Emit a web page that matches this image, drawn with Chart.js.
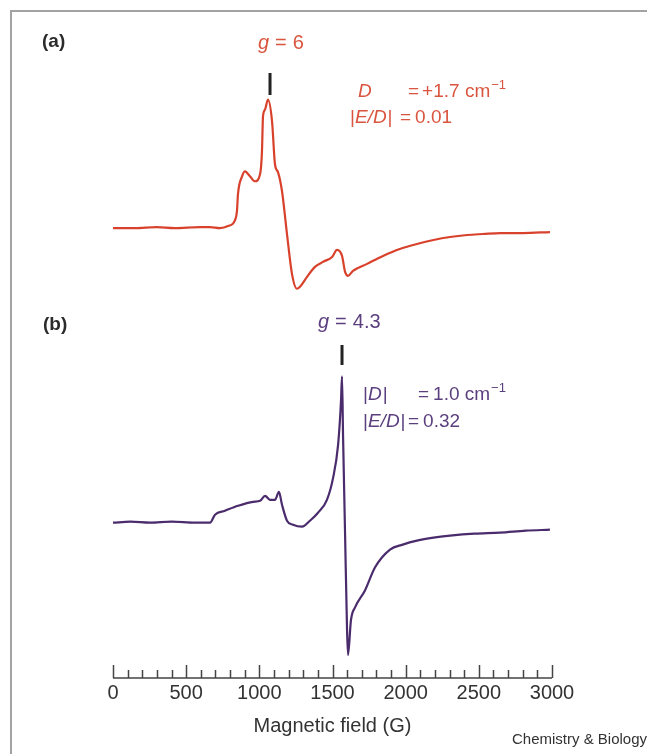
<!DOCTYPE html>
<html>
<head>
<meta charset="utf-8">
<script src="https://cdn.jsdelivr.net/npm/chart.js@4.4.1/dist/chart.umd.min.js"></script>
<style>
  html, body { margin: 0; padding: 0; background: #fff; }
  #epr { display: block; }
</style>
</head>
<body>
<canvas id="epr" width="647" height="754"></canvas>
<script>
// EPR spectra, magnetic field in gauss, signal in arbitrary units (baseline = 0)
const fieldA = [0, 150, 300, 420, 595, 663, 731, 786, 834, 847, 854, 882, 902, 936, 970, 1005, 1018, 1025, 1039, 1059,
  1087, 1107, 1128, 1155, 1189, 1223, 1257, 1278, 1326, 1380, 1435, 1497, 1531, 1565, 1586, 1606, 1640, 1736, 1845, 1960,
  2077, 2190, 2303, 2420, 2528, 2650, 2800, 2986];
const signalA = [0, 0, 1, 0, 1, 1, 0, 2, 8, 17, 34, 52, 57, 52, 47, 54, 77, 112, 119, 129,
  107, 64, 56, 37, -6, -46, -61, -59, -49, -39, -34, -29, -22, -28, -44, -48, -43, -36, -28, -21,
  -16, -12, -9, -7, -6, -5, -5, -4];

const fieldB = [0, 120, 253, 400, 560, 663, 697, 765, 854, 957, 1005, 1039, 1073, 1107, 1134, 1155, 1189, 1230, 1292, 1346,
  1401, 1462, 1504, 1538, 1558, 1565, 1572, 1586, 1599, 1606, 1626, 1654, 1722, 1790, 1893, 1980, 2077, 2190, 2303, 2470,
  2645, 2820, 2986];
const signalB = [0, 1, 0, 1, 0, 0, 8, 12, 17, 21, 22, 27, 23, 23, 31, 18, 2, -2, -4, 2,
  10, 23, 45, 78, 122, 147, 88, -12, -105, -133, -98, -85, -68, -45, -27, -22, -18, -15, -13, -11,
  -10, -8, -7];

const fieldMin = 0;
const fieldMax = 3000;
const minorStep = 100;
const majorStep = 500;

// g-value markers (field position of the little black bars)
const markerFields = [1073, 1565];

const RED = '#d8412b';
const RED_TEXT = '#d9553f';
const PURPLE = '#4a2b6c';
const PURPLE_TEXT = '#5b3f7e';
const FONT = "'Liberation Sans', Arial, sans-serif";

const toPoints = (xs, ys) => xs.map((x, i) => ({ x, y: ys[i] }));

function drawRuns(ctx, x, y, runs) {
  runs.forEach(r => {
    ctx.font = r.font;
    ctx.fillText(r.text, x, y + (r.dy || 0));
    x += ctx.measureText(r.text).width + (r.gap || 0);
  });
  return x;
}

const decorations = {
  id: 'decorations',
  beforeDraw(chart) {
    const ctx = chart.ctx;
    ctx.save();
    ctx.fillStyle = '#fff';
    ctx.fillRect(0, 0, chart.width, chart.height);
    // frame
    ctx.strokeStyle = '#a3a3a3';
    ctx.lineWidth = 2;
    ctx.beginPath();
    ctx.moveTo(11, chart.height);
    ctx.lineTo(11, 11);
    ctx.lineTo(chart.width, 11);
    ctx.stroke();
    ctx.restore();
  },
  afterDraw(chart) {
    const ctx = chart.ctx;
    const xs = chart.scales.x;
    const base = chart.chartArea.bottom;
    ctx.save();

    // axis with upward ticks
    ctx.strokeStyle = '#444';
    ctx.lineWidth = 1.5;
    ctx.beginPath();
    ctx.moveTo(xs.getPixelForValue(fieldMin), base);
    ctx.lineTo(xs.getPixelForValue(fieldMax), base);
    xs.ticks.forEach(t => {
      const px = Math.round(xs.getPixelForValue(t.value)) + 0.5;
      const len = t.value % majorStep === 0 ? 13 : 8;
      ctx.moveTo(px, base);
      ctx.lineTo(px, base - len);
    });
    ctx.stroke();

    // g markers
    ctx.fillStyle = '#222';
    const mA = xs.getPixelForValue(markerFields[0]);
    ctx.fillRect(mA - 1.5, 73, 3, 22);
    const mB = xs.getPixelForValue(markerFields[1]);
    ctx.fillRect(mB - 1.5, 345, 3, 20);

    ctx.textBaseline = 'middle';
    ctx.textAlign = 'left';

    // panel labels
    ctx.fillStyle = '#2b2b2b';
    ctx.font = 'bold 19px ' + FONT;
    ctx.fillText('(a)', 42, 42);
    ctx.fillText('(b)', 43, 325);

    const it = 'italic 20px ' + FONT;
    const rg = '20px ' + FONT;
    const it19 = 'italic 19px ' + FONT;
    const rg19 = '19px ' + FONT;
    const sup = '13px ' + FONT;

    // panel (a) text
    ctx.fillStyle = RED_TEXT;
    drawRuns(ctx, 258, 43, [
      { text: 'g', font: it, gap: 6 }, { text: '=', font: rg, gap: 6 }, { text: '6', font: rg }
    ]);
    drawRuns(ctx, 358, 92, [{ text: 'D', font: it19 }]);
    drawRuns(ctx, 408, 92, [
      { text: '=', font: rg19, gap: 3 }, { text: '+1.7 cm', font: rg19, gap: 1 }, { text: '\u22121', font: sup, dy: -7 }
    ]);
    drawRuns(ctx, 350, 118, [
      { text: '|', font: rg19 }, { text: 'E/D', font: it19, gap: 1 }, { text: '|', font: rg19 }
    ]);
    drawRuns(ctx, 400, 118, [{ text: '=', font: rg19, gap: 4 }, { text: '0.01', font: rg19 }]);

    // panel (b) text
    ctx.fillStyle = PURPLE_TEXT;
    drawRuns(ctx, 318, 322, [
      { text: 'g', font: it, gap: 6 }, { text: '=', font: rg, gap: 6 }, { text: '4.3', font: rg }
    ]);
    drawRuns(ctx, 363, 395, [
      { text: '|', font: rg19 }, { text: 'D', font: it19, gap: 1 }, { text: '|', font: rg19 }
    ]);
    drawRuns(ctx, 418, 395, [
      { text: '=', font: rg19, gap: 4 }, { text: '1.0 cm', font: rg19, gap: 1 }, { text: '\u22121', font: sup, dy: -7 }
    ]);
    drawRuns(ctx, 363, 422, [
      { text: '|', font: rg19 }, { text: 'E/D', font: it19, gap: 1 }, { text: '|', font: rg19 }
    ]);
    drawRuns(ctx, 408, 422, [{ text: '=', font: rg19, gap: 4 }, { text: '0.32', font: rg19 }]);

    // journal credit
    ctx.fillStyle = '#333';
    ctx.font = '15px ' + FONT;
    ctx.fillText('Chemistry & Biology', 512, 740);

    ctx.restore();
  }
};

new Chart(document.getElementById('epr'), {
  type: 'line',
  data: {
    datasets: [
      {
        label: '(a)',
        data: toPoints(fieldA, signalA),
        yAxisID: 'ya',
        borderColor: RED,
        borderWidth: 2.2,
        pointRadius: 0,
        cubicInterpolationMode: 'monotone'
      },
      {
        label: '(b)',
        data: toPoints(fieldB, signalB),
        yAxisID: 'yb',
        borderColor: PURPLE,
        borderWidth: 2.2,
        pointRadius: 0,
        cubicInterpolationMode: 'monotone'
      }
    ]
  },
  options: {
    responsive: false,
    animation: false,
    devicePixelRatio: 1,
    layout: { padding: { left: 113, right: 95, top: 20, bottom: 16 } },
    plugins: { legend: { display: false }, tooltip: { enabled: false } },
    scales: {
      x: {
        type: 'linear',
        min: fieldMin,
        max: fieldMax,
        grid: { display: false, drawTicks: false },
        border: { display: false },
        ticks: {
          stepSize: minorStep,
          autoSkip: false,
          maxRotation: 0,
          padding: 3,
          color: '#333',
          font: { family: FONT, size: 20 },
          callback: v => (v % majorStep === 0 ? String(v) : '')
        },
        title: {
          display: true,
          text: 'Magnetic field (G)',
          color: '#333',
          font: { family: FONT, size: 20 },
          padding: { top: 6, bottom: 0 }
        }
      },
      ya: { display: false, min: -452, max: 209 },
      yb: { display: false, min: -156, max: 505 }
    }
  },
  plugins: [decorations]
});
</script>
</body>
</html>
